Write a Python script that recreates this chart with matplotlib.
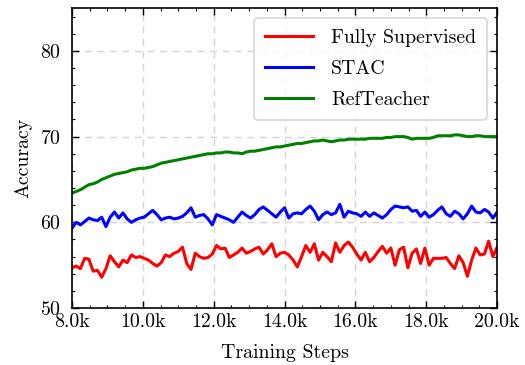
import numpy as np
import matplotlib
matplotlib.use("Agg")
import matplotlib.pyplot as plt
from matplotlib.ticker import MultipleLocator, FuncFormatter

# data (101 evaluations, 8k -> 20k steps)
steps = np.linspace(8000, 20000, 101)

fully_supervised = [
    54.7, 54.9, 54.6, 55.8, 55.7, 54.3, 54.4, 53.6, 54.6, 56.1,
    55.4, 54.8, 55.6, 55.3, 56.2, 55.9, 56.0, 55.8, 55.6, 55.2,
    54.9, 55.3, 56.2, 56.0, 56.4, 56.6, 57.1, 55.2, 54.5, 56.4,
    56.0, 55.8, 55.9, 56.3, 57.3, 56.9, 57.0, 55.9, 56.2, 56.5,
    57.0, 56.4, 56.6, 56.9, 57.1, 56.3, 56.8, 57.5, 56.0, 56.4,
    56.5, 56.2, 55.6, 54.8, 56.0, 57.3, 56.5, 57.5, 55.6, 56.5,
    56.0, 55.4, 57.6, 56.5, 57.3, 57.7, 57.1, 56.3, 55.6, 56.5,
    55.4, 55.9, 56.6, 57.2, 56.4, 57.0, 55.0, 56.8, 57.1, 54.7,
    56.4, 56.9, 55.2, 57.0, 55.0, 55.8, 55.8, 55.8, 55.9, 55.2,
    54.6, 56.1, 55.3, 53.7, 55.6, 57.0, 56.2, 56.3, 57.8, 56.0,
    57.1,
]

stac = [
    59.3, 60.0, 59.7, 60.1, 60.5, 60.3, 60.2, 60.6, 59.5, 60.6,
    61.2, 60.5, 61.1, 60.4, 60.0, 60.3, 60.5, 60.6, 61.0, 61.4,
    60.9, 60.3, 60.5, 60.6, 60.4, 60.5, 60.7, 61.1, 61.7, 60.6,
    60.8, 60.9, 60.4, 59.7, 60.9, 60.7, 60.5, 60.3, 60.0, 60.6,
    61.2, 60.8, 60.5, 60.9, 61.5, 61.8, 61.4, 61.0, 60.6, 61.2,
    61.7, 60.5, 61.0, 61.1, 61.0, 61.5, 61.9, 61.3, 60.3, 60.9,
    61.2, 60.9, 61.1, 62.1, 60.6, 61.3, 61.1, 61.0, 60.7, 61.2,
    60.7, 61.1, 60.8, 60.5, 60.9, 61.5, 61.9, 61.8, 61.7, 61.8,
    61.3, 61.4, 60.7, 61.2, 60.6, 60.9, 61.4, 61.8, 61.0, 60.7,
    61.3, 61.0, 60.4, 61.0, 61.9, 61.2, 61.1, 61.5, 61.2, 60.5,
    61.2,
]

refteacher = [
    63.4, 63.6, 63.8, 64.1, 64.4, 64.5, 64.7, 65.0, 65.2, 65.4,
    65.6, 65.7, 65.8, 65.9, 66.1, 66.2, 66.3, 66.3, 66.4, 66.5,
    66.7, 66.9, 67.0, 67.1, 67.2, 67.3, 67.4, 67.5, 67.6, 67.7,
    67.8, 67.9, 68.0, 68.0, 68.1, 68.1, 68.2, 68.2, 68.1, 68.1,
    68.0, 68.2, 68.3, 68.3, 68.4, 68.5, 68.6, 68.7, 68.8, 68.8,
    68.9, 69.0, 69.1, 69.2, 69.2, 69.3, 69.4, 69.5, 69.5, 69.6,
    69.5, 69.4, 69.5, 69.6, 69.6, 69.7, 69.7, 69.7, 69.7, 69.7,
    69.8, 69.8, 69.8, 69.8, 69.9, 69.9, 70.0, 70.0, 70.0, 69.9,
    69.7, 69.8, 69.8, 69.8, 69.8, 69.9, 70.1, 70.1, 70.1, 70.1,
    70.2, 70.2, 70.1, 70.0, 70.0, 70.1, 70.1, 70.0, 70.0, 70.0,
    70.0,
]

plt.rcParams["font.family"] = "serif"
plt.rcParams["font.serif"] = ["cmr10", "DejaVu Serif"]
plt.rcParams["mathtext.fontset"] = "cm"
plt.rcParams["axes.formatter.use_mathtext"] = True
plt.rcParams["xtick.direction"] = "in"
plt.rcParams["ytick.direction"] = "in"
plt.rcParams["xtick.top"] = True
plt.rcParams["ytick.right"] = True

fig = plt.figure(figsize=(5.25, 3.65), dpi=100)
ax = fig.add_axes([0.137, 0.156, 0.810, 0.822])

ax.plot(steps, fully_supervised, color="red", lw=2.2, label="Fully Supervised")
ax.plot(steps, stac, color="blue", lw=2.2, label="STAC")
ax.plot(steps, refteacher, color="green", lw=2.2, label="RefTeacher")

ax.set_xlim(8000, 20000)
ax.set_ylim(50, 85)
ax.xaxis.set_major_locator(MultipleLocator(2000))
ax.xaxis.set_minor_locator(MultipleLocator(500))
ax.yaxis.set_major_locator(MultipleLocator(10))
ax.yaxis.set_minor_locator(MultipleLocator(2))
ax.xaxis.set_major_formatter(FuncFormatter(lambda v, p: "%.1fk" % (v / 1000)))

ax.tick_params(which="major", length=5, width=1.0, labelsize=14.3)
ax.tick_params(axis="y", which="major", pad=8)
ax.tick_params(which="minor", length=2.5, width=0.8)
for s in ax.spines.values():
    s.set_linewidth(1.2)

ax.grid(True, which="major", ls=(0, (5, 4)), color="#d4d4d4", lw=1.0)

ax.set_xlabel("Training Steps", fontsize=14.3, labelpad=9.5)
ax.set_ylabel("Accuracy", fontsize=14.3, labelpad=5)

leg = ax.legend(loc="upper right", fontsize=14.3, frameon=True, fancybox=True,
                handlelength=2.4, handletextpad=0.9, borderpad=0.57,
                labelspacing=0.64)
leg.get_frame().set_edgecolor("#cccccc")
leg.get_frame().set_linewidth(1.2)

fig.savefig("out.png", dpi=100)
